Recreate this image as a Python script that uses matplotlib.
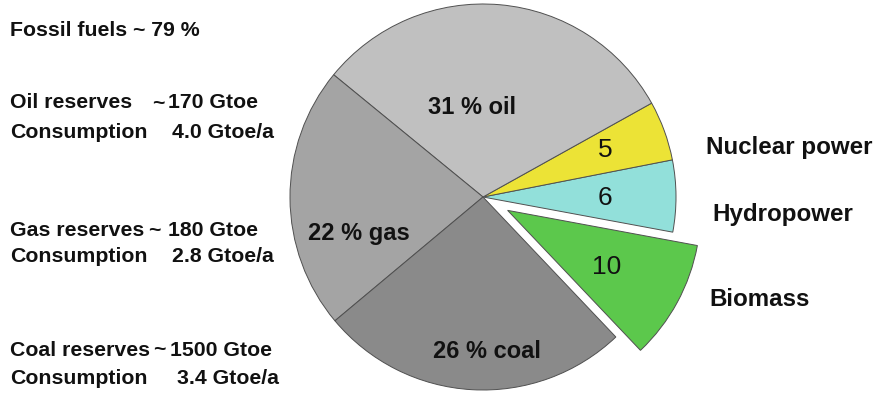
import matplotlib.pyplot as plt

plt.rcParams['font.family'] = ['Liberation Sans', 'DejaVu Sans']

# share of world primary energy, percent
sources = ['Biomass', 'Hydropower', 'Nuclear power', 'oil', 'gas', 'coal']
shares = [10, 6, 5, 31, 22, 26]
colors = ['#5cc84c', '#92e0da', '#ece336', '#c0c0c0', '#a4a4a4', '#8a8a8a']
explode = [28, 0, 0, 0, 0, 0]

# reserves and yearly consumption of the fossil fuels
fossil_total = 79
fuel_names = ['Oil', 'Gas', 'Coal']
reserves = ['170', '180', '1500']
consumption = ['4.0', '2.8', '3.4']

fig = plt.figure(figsize=(8.79, 3.95), dpi=100)
ax = fig.add_axes([0, 0, 1, 1])

ax.pie(shares, colors=colors, explode=explode, startangle=-46.5,
       counterclock=True, center=(483, 198), radius=193, frame=True,
       wedgeprops=dict(edgecolor='#505050', linewidth=0.7))
ax.set_xlim(0, 879)
ax.set_ylim(0, 395)
ax.set_aspect('equal')
ax.axis('off')

ink = '#111111'
fs_left = 15.3

# labels inside the wedges
inner = {'oil': (472, 287), 'gas': (359, 161), 'coal': (487, 43),
         'Nuclear power': (605, 245), 'Hydropower': (605, 197), 'Biomass': (607, 128)}
for name, val in zip(sources, shares):
    x, y = inner[name]
    if name in ('oil', 'gas', 'coal'):
        ax.text(x, y, f'{val} % {name}', ha='center', va='center',
                fontsize=17, fontweight='bold', color=ink)
    else:
        ax.text(x, y, f'{val}', ha='center', va='center', fontsize=19,
                color=ink)

# names of the non-fossil sources
right = {'Nuclear power': (706, 247), 'Hydropower': (712, 180), 'Biomass': (709, 95)}
for name in ('Nuclear power', 'Hydropower', 'Biomass'):
    x, y = right[name]
    ax.text(x, y, name, ha='left', va='center', fontsize=17.4, fontweight='bold',
            color=ink)

# fossil fuel block on the left
ax.text(10, 364, f'Fossil fuels ~ {fossil_total} %', ha='left', va='center',
        fontsize=fs_left, fontweight='bold', color=ink)
rows_y = [(292, 263), (164, 138), (45, 17)]
tilde_x = [152, 148, 153]
res_x = [168, 168, 170]
cons_x = [172, 172, 177]
for name, res, cons, (y1, y2), tx, rx, cx in zip(fuel_names, reserves,
                                                 consumption, rows_y,
                                                 tilde_x, res_x, cons_x):
    ax.text(10, y1, f'{name} reserves', ha='left', va='center',
            fontsize=fs_left, fontweight='bold', color=ink)
    ax.text(tx, y1, '~', ha='left', va='center', fontsize=fs_left,
            fontweight='bold', color=ink)
    ax.text(rx, y1, f'{res} Gtoe', ha='left', va='center', fontsize=fs_left,
            fontweight='bold', color=ink)
    ax.text(10, y2, 'Consumption', ha='left', va='center', fontsize=fs_left,
            fontweight='bold', color=ink)
    ax.text(cx, y2, f'{cons} Gtoe/a', ha='left', va='center',
            fontsize=fs_left, fontweight='bold', color=ink)

fig.savefig('out.png', dpi=100, facecolor='white')
